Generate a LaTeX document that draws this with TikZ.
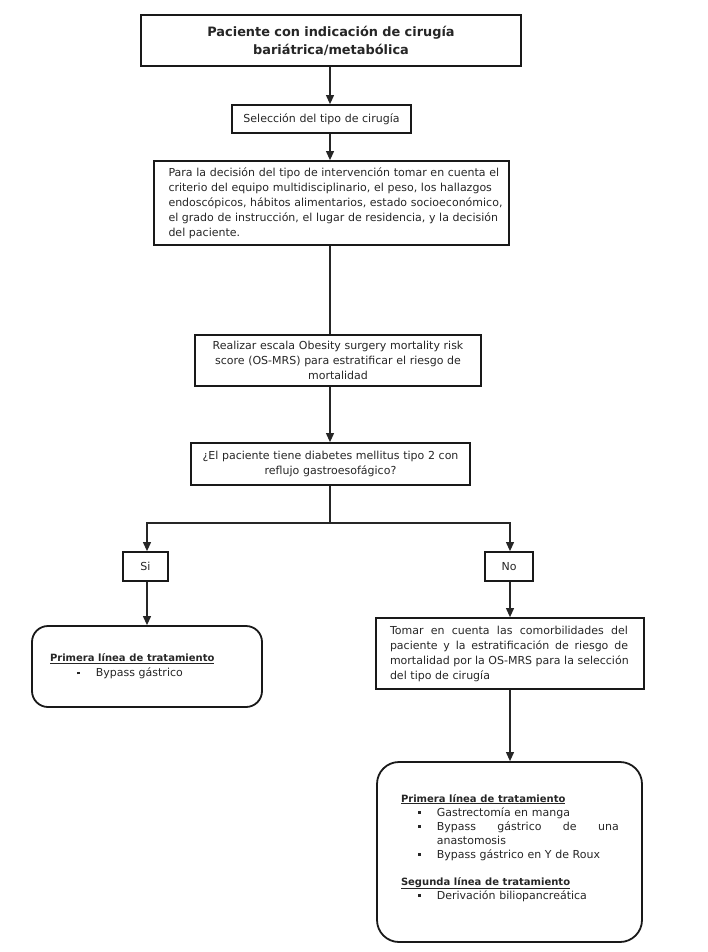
\documentclass[tikz,border=0pt]{standalone}
\usepackage{fontspec}
\setmainfont{DejaVu Sans}
\usetikzlibrary{arrows.meta}
\newcommand{\bul}{\raisebox{2.4pt}{\rule{2.8pt}{2.8pt}}}
\newcommand{\body}{\fontsize{11}{15}\selectfont}
\newcommand{\hdr}[1]{{\fontsize{10}{14}\selectfont\bfseries\underline{#1}}}
\newcommand{\jline}[2]{\leavevmode\hbox to #1{\spaceskip=0.32em plus 1fil\relax #2}}
\newcommand{\bline}[1]{\leavevmode\hspace*{7pt}\mbox{#1}}
\begin{document}
\begin{tikzpicture}[x=1pt,y=-1pt,
  box/.style={draw=black!90, line width=1.8pt, rectangle, inner ysep=0pt, font=\body, text=black!85},
  rbox/.style={box, rounded corners=16pt},
  arr/.style={draw=black!85, line width=1.1pt, -{Triangle[length=9pt,width=8pt]}},
  ln/.style={draw=black!85, line width=1.1pt}]
\useasboundingbox (0,0) rectangle (708,952);
\fill[white] (0,0) rectangle (708,952);

\node[box, minimum width=380, minimum height=51, text width=360, inner xsep=10, align=center,
  font=\fontsize{12.9}{18}\selectfont\bfseries] (title) at (331,40.5)
  {Paciente con indicación de cirugía\\bariátrica/metabólica};

\node[box, minimum width=179, minimum height=28, text width=171, inner xsep=4, align=center] (sel) at (321.5,119)
  {Selección del tipo de cirugía};

\node[box, minimum width=355, minimum height=84, text width=340, inner xsep=7.5, align=left] (big) at (331.5,203)
  {\bline{Para la decisión del tipo de intervención tomar en cuenta el}\\
   \bline{criterio del equipo multidisciplinario, el peso, los hallazgos}\\
   \bline{endoscópicos, hábitos alimentarios, estado socioeconómico,}\\
   \bline{el grado de instrucción, el lugar de residencia, y la decisión}\\
   \bline{del paciente.}};

\node[box, minimum width=286, minimum height=51, text width=270, inner xsep=8, align=center] (osm) at (338,360.5)
  {Realizar escala Obesity surgery mortality risk\\score (OS-MRS) para estratificar el riesgo de\\mortalidad};

\node[box, minimum width=279, minimum height=42, text width=265, inner xsep=7, align=center] (q) at (330.5,464)
  {¿El paciente tiene diabetes mellitus tipo 2 con\\reflujo gastroesofágico?};

\node[box, minimum width=45, minimum height=29, align=center] (si) at (145.5,566.5) {Si};
\node[box, minimum width=48, minimum height=29, align=center] (no) at (509,566.5) {No};

\node[rbox, minimum width=230, minimum height=81, text width=210, inner xsep=10, align=left] (left) at (147,666.5)
  {\hspace*{8pt}\hdr{Primera línea de tratamiento}\\
   \hspace*{35pt}\bul\hspace*{16pt}Bypass gástrico};

\node[box, minimum width=268, minimum height=71, text width=240, inner xsep=14, align=left] (tomar) at (510,653.5)
  {\jline{238pt}{Tomar en cuenta las comorbilidades del}\\
   \jline{238pt}{paciente y la estratificación de riesgo de}\\
   \jline{238pt}{mortalidad por la OS-MRS para la selección}\\
   del tipo de cirugía};

\node[rbox, rounded corners=22pt, minimum width=265, minimum height=180, text width=241, inner xsep=12, align=left,
  font=\fontsize{11}{14}\selectfont] (right) at (509.5,852)
  {\hspace*{12pt}\hdr{Primera línea de tratamiento}\\
   \hspace*{29pt}\bul\hspace*{16pt}Gastrectomía en manga\\
   \hspace*{29pt}\bul\hspace*{16pt}\jline{182pt}{Bypass gástrico de una}\\
   \hspace*{47.8pt}anastomosis\\
   \hspace*{29pt}\bul\hspace*{16pt}Bypass gástrico en Y de Roux\\[13pt]
   \hspace*{12pt}\hdr{Segunda línea de tratamiento}\\
   \hspace*{29pt}\bul\hspace*{16pt}Derivación biliopancreática\\[-3pt]\mbox{}};

\coordinate (cx) at (330,0);
\coordinate (lx) at (147,0);
\coordinate (rx) at (510,0);
\coordinate (split) at (330,523);
\coordinate (splitl) at (147,523);
\coordinate (splitr) at (510,523);

\draw[arr] (title.south -| cx) -- (sel.north -| cx);
\draw[arr] (sel.south -| cx) -- (big.north -| cx);
\draw[ln] (big.south -| cx) -- (osm.north -| cx);
\draw[arr] (osm.south -| cx) -- (q.north -| cx);
\draw[ln] (q.south -| cx) -- (split);
\draw[arr] (split) -- (splitl) -- (si.north -| lx);
\draw[arr] (split) -- (splitr) -- (no.north -| rx);
\draw[arr] (si.south -| lx) -- (left.north -| lx);
\draw[arr] (no.south -| rx) -- (tomar.north -| rx);
\draw[arr] (tomar.south -| rx) -- (right.north -| rx);
\end{tikzpicture}
\end{document}
